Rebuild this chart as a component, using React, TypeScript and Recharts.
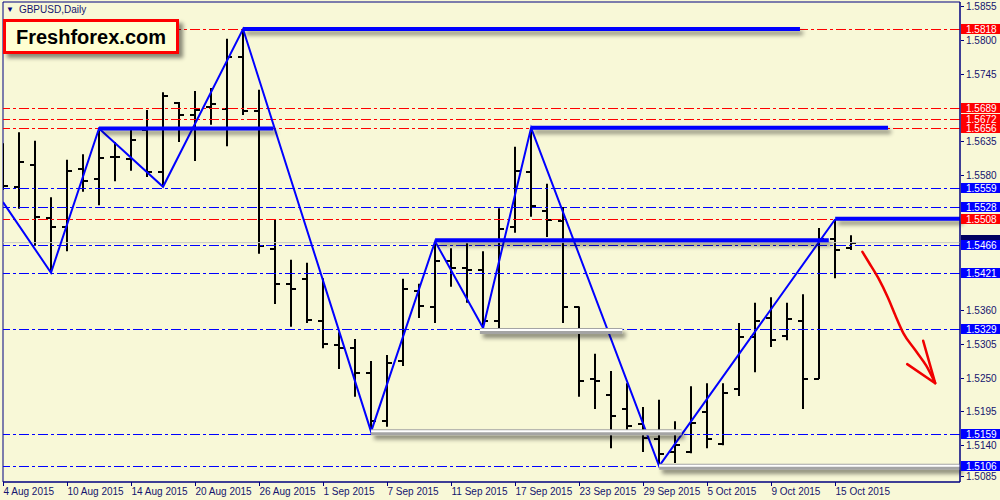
import { ComposedChart, Bar, Line, XAxis, YAxis, ReferenceLine, ReferenceArea } from 'recharts';

const BG = '#f8f8d7';
const NAVY = '#000080';
const TXT = '#14146e';

// trading days shown on the chart
const dates = [
  '4 Aug 2015', '5 Aug 2015', '6 Aug 2015', '7 Aug 2015', '10 Aug 2015', '11 Aug 2015', '12 Aug 2015', '13 Aug 2015',
  '14 Aug 2015', '17 Aug 2015', '18 Aug 2015', '19 Aug 2015', '20 Aug 2015', '21 Aug 2015', '24 Aug 2015', '25 Aug 2015',
  '26 Aug 2015', '27 Aug 2015', '28 Aug 2015', '31 Aug 2015', '1 Sep 2015', '2 Sep 2015', '3 Sep 2015', '4 Sep 2015',
  '7 Sep 2015', '8 Sep 2015', '9 Sep 2015', '10 Sep 2015', '11 Sep 2015', '14 Sep 2015', '15 Sep 2015', '16 Sep 2015',
  '17 Sep 2015', '18 Sep 2015', '21 Sep 2015', '22 Sep 2015', '23 Sep 2015', '24 Sep 2015', '25 Sep 2015', '28 Sep 2015',
  '29 Sep 2015', '30 Sep 2015', '1 Oct 2015', '2 Oct 2015', '5 Oct 2015', '6 Oct 2015', '7 Oct 2015', '8 Oct 2015',
  '9 Oct 2015', '12 Oct 2015', '13 Oct 2015', '14 Oct 2015', '15 Oct 2015', '16 Oct 2015',
];

const opens = [
  1.5572, 1.5561, 1.5597, 1.5510, 1.5496, 1.5590, 1.5574, 1.5610, 1.5606, 1.5654, 1.5585, 1.5697, 1.5678, 1.5691,
  1.5688, 1.5772, 1.5684, 1.5460, 1.5403, 1.5411, 1.5342, 1.5303, 1.5298, 1.5258, 1.5179, 1.5277, 1.5391, 1.5365,
  1.5440, 1.5429, 1.5425, 1.5342, 1.5496, 1.5585, 1.5522, 1.5505, 1.5365, 1.5247, 1.5222, 1.5199, 1.5175, 1.5150,
  1.5129, 1.5129, 1.5194, 1.5142, 1.5232, 1.5316, 1.5347, 1.5318, 1.5342, 1.5248, 1.5476, 1.5461,
];
const highs = [
  1.5632, 1.5650, 1.5636, 1.5544, 1.5605, 1.5614, 1.5657, 1.5634, 1.5654, 1.5686, 1.5715, 1.5699, 1.5717, 1.5722,
  1.5802, 1.5818, 1.5719, 1.5507, 1.5442, 1.5437, 1.5412, 1.5324, 1.5313, 1.5277, 1.5287, 1.5411, 1.5403, 1.5471,
  1.5461, 1.5469, 1.5456, 1.5526, 1.5626, 1.5657, 1.5566, 1.5528, 1.5366, 1.5289, 1.5261, 1.5241, 1.5202, 1.5214,
  1.5179, 1.5236, 1.5241, 1.5241, 1.5339, 1.5372, 1.5381, 1.5372, 1.5386, 1.5494, 1.5508, 1.5482,
];
const lows = [
  1.5556, 1.5525, 1.5465, 1.5421, 1.5456, 1.5553, 1.5531, 1.5570, 1.5587, 1.5577, 1.5561, 1.5634, 1.5603, 1.5662,
  1.5627, 1.5678, 1.5452, 1.5370, 1.5333, 1.5339, 1.5298, 1.5264, 1.5219, 1.5162, 1.5170, 1.5269, 1.5347, 1.5339,
  1.5398, 1.5372, 1.5331, 1.5331, 1.5486, 1.5512, 1.5479, 1.5339, 1.5219, 1.5199, 1.5135, 1.5157, 1.5129, 1.5106,
  1.5111, 1.5127, 1.5135, 1.5140, 1.5220, 1.5259, 1.5300, 1.5311, 1.5199, 1.5248, 1.5412, 1.5458,
];
const closes = [
  1.5562, 1.5601, 1.5512, 1.5496, 1.5587, 1.5570, 1.5608, 1.5609, 1.5637, 1.5585, 1.5709, 1.5678, 1.5686, 1.5696,
  1.5772, 1.5684, 1.5465, 1.5403, 1.5395, 1.5344, 1.5305, 1.5298, 1.5258, 1.5179, 1.5274, 1.5395, 1.5367, 1.5440,
  1.5429, 1.5425, 1.5342, 1.5492, 1.5587, 1.5530, 1.5507, 1.5365, 1.5245, 1.5245, 1.5188, 1.5171, 1.5152, 1.5126,
  1.5140, 1.5176, 1.5150, 1.5225, 1.5316, 1.5342, 1.5311, 1.5346, 1.5248, 1.5476, 1.5458, 1.5469,
];

// zigzag swing points (bar index, price)
const zigzagIdx = [0, 3, 6, 10, 15, 23, 27, 30, 33, 41, 52];
const zigzagPrice = [1.5536, 1.5421, 1.5656, 1.5561, 1.5818, 1.5162, 1.5472, 1.5331, 1.5657, 1.5106, 1.5508];

// horizontal levels
const redLevels = [1.5818, 1.5689, 1.5672, 1.5656, 1.5508];
const blueLevels = [1.5559, 1.5528, 1.5466, 1.5421, 1.5329, 1.5159, 1.5106];
const bidPrice = 1.5470;

// thick blue resistance segments
const segFrom = [6, 15, 27, 33, 52];
const segTo = [16.9, 49.8, 51.6, 55.3, 59.8];
const segPrice = [1.5656, 1.5818, 1.5474, 1.5657, 1.5509];

// silver support segments
const tubeFrom = [23, 29.8, 41];
const tubeTo = [42.4, 38.7, 59.8];
const tubePrice = [1.5161, 1.5326, 1.5105];

// hand-drawn forecast arrow
const arrowIdx = [53.7, 54.1, 54.7, 55.3, 55.75, 56.25, 57, 57.7, 58.25];
const arrowPrice = [1.5455, 1.5438, 1.5412, 1.538, 1.5352, 1.5323, 1.5295, 1.5269, 1.5241];
const barbIdx = [56.5, 58.25, 57.5];
const barbPrice = [1.5272, 1.5241, 1.531];

const priceTicks = [1.5855, 1.58, 1.5745, 1.5635, 1.558, 1.536, 1.5305, 1.525, 1.5195, 1.514, 1.5085];
const dateTicks = [0, 4, 8, 12, 16, 20, 24, 28, 32, 36, 40, 44, 48, 52];

const X_MAX = 59.8;
const Y_MIN = 1.508;
const Y_MAX = 1.5862;

const rows = dates.map((d, i) => ({
  i,
  date: d,
  open: opens[i],
  high: highs[i],
  low: lows[i],
  close: closes[i],
}));
const zigzag = zigzagIdx.map((i, k) => ({ i, p: zigzagPrice[k] }));
const arrow = arrowIdx.map((i, k) => ({ i, p: arrowPrice[k] }));
const barb = barbIdx.map((i, k) => ({ i, p: barbPrice[k] }));

const FONT = "'Liberation Sans', Arial, sans-serif";

const OhlcBar = (props: any) => {
  const { x, y, width, height, payload } = props;
  if (x == null || y == null) return null;
  const top = Math.min(y, y + height);
  const h = Math.abs(height);
  const cx = Math.round(x + width / 2);
  const span = payload.high - payload.low || 1;
  const py = (v: number) => Math.round(top + ((payload.high - v) / span) * h);
  const yo = py(payload.open);
  const yc = py(payload.close);
  return (
    <g>
      <line x1={cx} x2={cx} y1={top} y2={top + h} stroke="#000" strokeWidth={2} />
      <line x1={cx - 5} x2={cx} y1={yo} y2={yo} stroke="#000" strokeWidth={2} />
      <line x1={cx} x2={cx + 5} y1={yc} y2={yc} stroke="#000" strokeWidth={2} />
    </g>
  );
};

const levelLine = (color: string) => (p: any) => {
  const yy = Math.round(p.y1) + 0.5;
  return <line x1={p.x1} x2={p.x2} y1={yy} y2={yy} stroke={color} strokeWidth={1} strokeDasharray="10 3 3 3" />;
};

const thickLine = (p: any) => (
  <line x1={p.x1} x2={p.x2} y1={p.y1} y2={p.y2} stroke="#0000ff" strokeWidth={4} filter="url(#lineShadow)" />
);

const tubeLine = (p: any) => (
  <g filter="url(#lineShadow)">
    <line x1={p.x1} x2={p.x2} y1={p.y1} y2={p.y2} stroke="#a4a4a4" strokeWidth={6} />
    <line x1={p.x1} x2={p.x2} y1={p.y1 - 1} y2={p.y2 - 1} stroke="#ffffff" strokeWidth={2} />
  </g>
);

const priceTag = (value: number, fill: string) => (props: any) => {
  const vb = props.viewBox;
  if (!vb) return null;
  const right = vb.x + vb.width;
  const cy = Math.round(vb.y);
  return (
    <g>
      <rect x={right + 1} y={cy - 5} width={39} height={10} fill={fill} />
      <text x={right + 6} y={cy + 4} fill="#ffffff" fontSize={10} fontFamily={FONT}>
        {value.toFixed(4)}
      </text>
    </g>
  );
};

// bid marker hidden under the 1.5466 tag: only the edge shows
const bidTag = (props: any) => {
  const vb = props.viewBox;
  if (!vb) return null;
  const right = vb.x + vb.width;
  const cy = Math.round(vb.y);
  return <rect x={right + 1} y={cy - 8} width={39} height={10} fill="#000060" />;
};

const PriceTick = (props: any) => {
  const { x, y, payload } = props;
  const ty = Math.min(Math.round(y), 476);
  return (
    <g>
      <line x1={x + 1} x2={x + 4} y1={ty + 0.5} y2={ty + 0.5} stroke={NAVY} />
      <text x={x + 6} y={ty + 4} fill={TXT} fontSize={10} fontFamily={FONT}>
        {Number(payload.value).toFixed(4)}
      </text>
    </g>
  );
};

const DateTick = (props: any) => {
  const { x, y, payload } = props;
  const tx = Math.round(x) + 0.5;
  return (
    <g>
      <line x1={tx} x2={tx} y1={y} y2={y + 4} stroke={NAVY} />
      <text x={tx} y={y + 13} fill={TXT} fontSize={10} fontFamily={FONT}>
        {dates[payload.value]}
      </text>
    </g>
  );
};

export default function App() {
  return (
    <div style={{ position: 'absolute', left: 0, top: 0, width: 1000, height: 500, background: BG, overflow: 'hidden' }}>
      <svg width={0} height={0} style={{ position: 'absolute' }}>
        <defs>
          <filter id="lineShadow" filterUnits="userSpaceOnUse" x={0} y={0} width={1000} height={500}>
            <feDropShadow dx={3} dy={4} stdDeviation={2} floodColor="#000" floodOpacity={0.45} />
          </filter>
        </defs>
      </svg>
      <ComposedChart width={1000} height={500} data={rows} margin={{ top: 2, right: 0, bottom: 0, left: 3 }}>
        <XAxis
          dataKey="i"
          type="number"
          domain={[0, X_MAX]}
          ticks={dateTicks}
          interval={0}
          height={18}
          tickSize={0}
          tickMargin={0}
          tick={<DateTick />}
          axisLine={{ stroke: NAVY }}
          allowDataOverflow
        />
        <YAxis
          orientation="right"
          type="number"
          domain={[Y_MIN, Y_MAX]}
          ticks={priceTicks}
          interval={0}
          width={40}
          tickSize={0}
          tickMargin={0}
          tick={<PriceTick />}
          axisLine={{ stroke: NAVY }}
          allowDataOverflow
        />
        <ReferenceArea x1={0} x2={X_MAX} y1={Y_MIN} y2={Y_MAX} fill="none" stroke={NAVY} strokeWidth={1} />
        {redLevels.map((v) => (
          <ReferenceLine key={'r' + v} y={v} shape={levelLine('#ff0000')} />
        ))}
        {blueLevels.map((v) => (
          <ReferenceLine key={'b' + v} y={v} shape={levelLine('#0000ff')} />
        ))}
        <ReferenceLine y={bidPrice} stroke="#c8c8c8" strokeWidth={1} />
        <Bar
          dataKey={(d: any) => [d.low, d.high]}
          barSize={10}
          shape={<OhlcBar />}
          isAnimationActive={false}
        />
        <Line
          data={zigzag}
          dataKey="p"
          type="linear"
          stroke="#0000ff"
          strokeWidth={2}
          dot={false}
          activeDot={false}
          isAnimationActive={false}
        />
        {tubePrice.map((v, k) => (
          <ReferenceLine
            key={'t' + k}
            segment={[{ x: tubeFrom[k], y: v }, { x: tubeTo[k], y: v }]}
            shape={tubeLine}
          />
        ))}
        {segPrice.map((v, k) => (
          <ReferenceLine
            key={'s' + k}
            segment={[{ x: segFrom[k], y: v }, { x: segTo[k], y: v }]}
            shape={thickLine}
          />
        ))}
        <Line
          data={arrow}
          dataKey="p"
          type="monotone"
          stroke="#f00000"
          strokeWidth={2.5}
          strokeLinecap="round"
          dot={false}
          activeDot={false}
          isAnimationActive={false}
        />
        <Line
          data={barb}
          dataKey="p"
          type="linear"
          stroke="#f00000"
          strokeWidth={2.5}
          strokeLinecap="round"
          strokeLinejoin="round"
          dot={false}
          activeDot={false}
          isAnimationActive={false}
        />
        {/* price tags on the right scale */}
        <ReferenceLine y={bidPrice} stroke="none" label={bidTag} />
        {redLevels.map((v) => (
          <ReferenceLine key={'rt' + v} y={v} stroke="none" label={priceTag(v, '#ff0000')} />
        ))}
        {blueLevels.map((v) => (
          <ReferenceLine key={'bt' + v} y={v} stroke="none" label={priceTag(v, '#0000ff')} />
        ))}
      </ComposedChart>

      <div
        style={{
          position: 'absolute',
          left: 6,
          top: 4,
          fontFamily: FONT,
          fontSize: 10,
          color: TXT,
          display: 'flex',
          alignItems: 'center',
          gap: 5,
        }}
      >
        <span style={{ fontSize: 8, color: NAVY }}>▼</span>
        <span>GBPUSD,Daily</span>
      </div>

      <div
        style={{
          position: 'absolute',
          left: 3,
          top: 19,
          width: 160,
          height: 29,
          border: '3px solid #ff0000',
          background: '#ffffd2',
          boxShadow: '4px 4px 4px rgba(0,0,0,0.45)',
          fontFamily: FONT,
          fontWeight: 'bold',
          fontSize: 20,
          color: '#000',
          lineHeight: '30px',
          paddingLeft: 10,
          boxSizing: 'content-box',
          whiteSpace: 'nowrap',
        }}
      >
        Freshforex.com
      </div>
    </div>
  );
}
